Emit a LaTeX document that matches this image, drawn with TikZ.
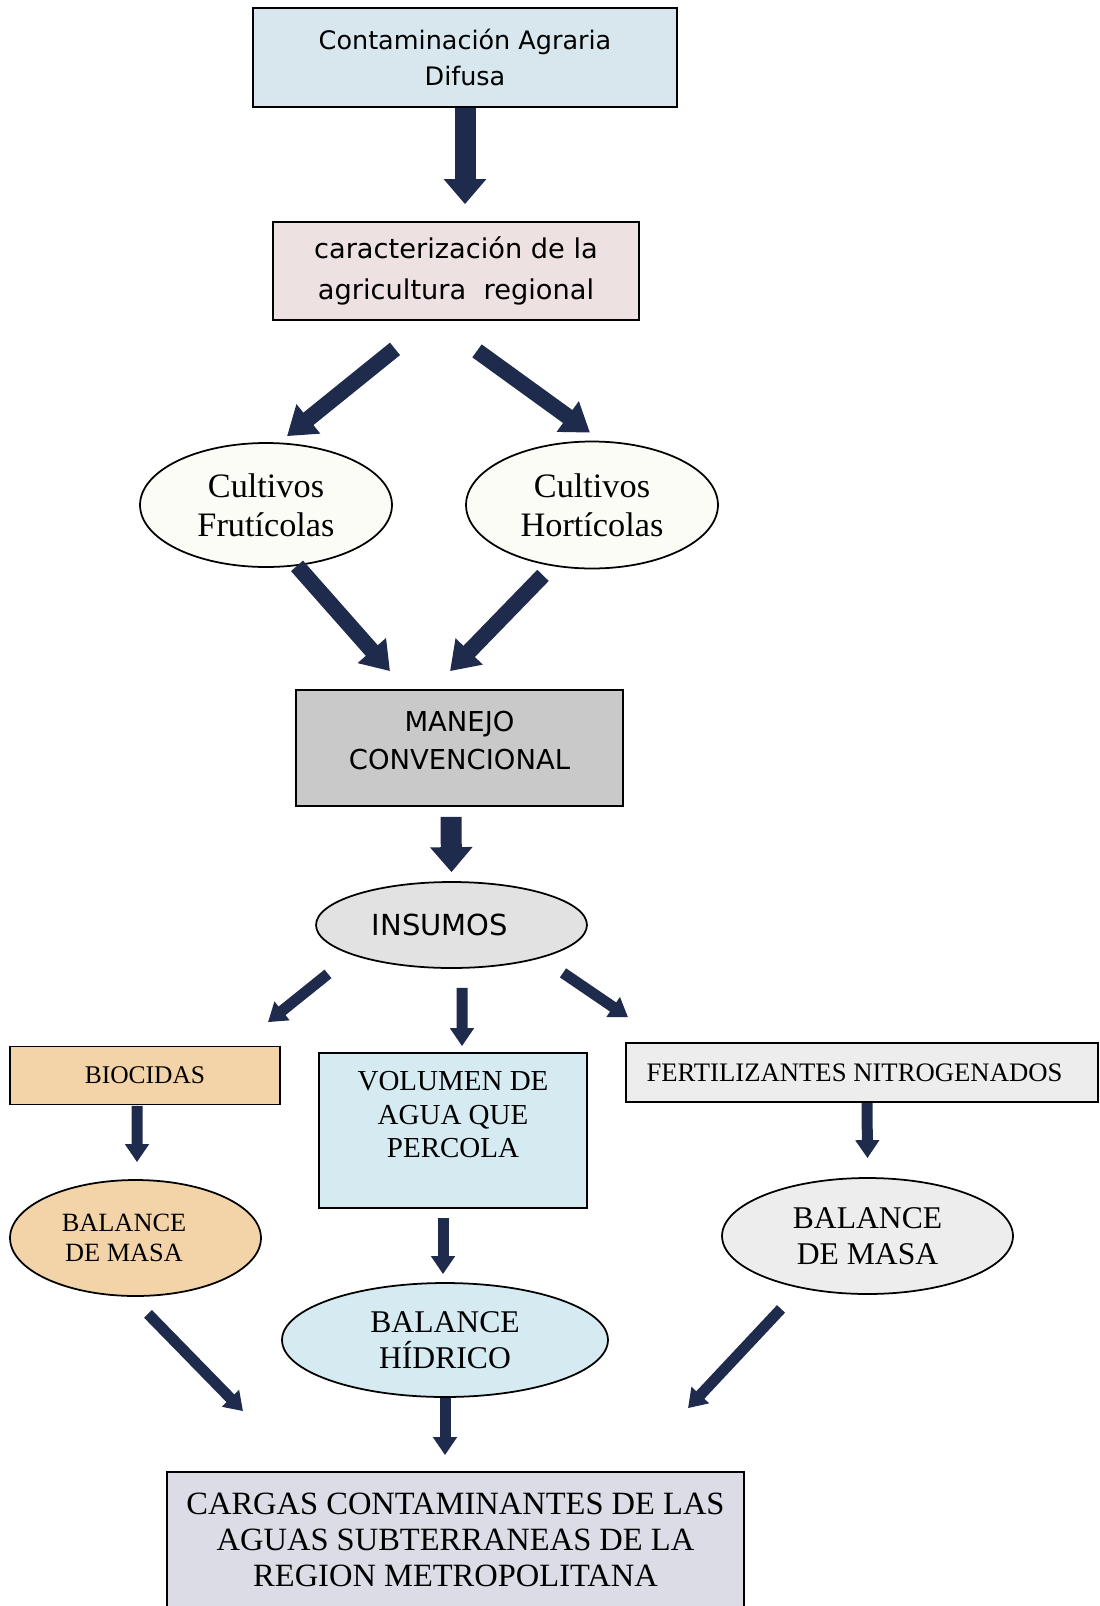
\documentclass[tikz,border=0pt]{standalone}
\usepackage{fontspec}
\setmainfont{Liberation Serif}
\newfontfamily\tahoma{DejaVu Sans}
\usetikzlibrary{arrows.meta,calc,shapes.geometric}

\definecolor{navyarrow}{HTML}{1F2B4C}
\definecolor{boxblue}{HTML}{D8E7EE}
\definecolor{boxpink}{HTML}{EEE1E1}
\definecolor{boxgray}{HTML}{C9C9C9}
\definecolor{ovalgray}{HTML}{E2E2E2}
\definecolor{ovalcream}{HTML}{FCFCF7}
\definecolor{peach}{HTML}{F3D4A8}
\definecolor{waterblue}{HTML}{D5EAF1}
\definecolor{palegray}{HTML}{EDEDED}
\definecolor{lavgray}{HTML}{DBDCE6}

\begin{document}
\begin{tikzpicture}[x=0.02cm, y=-0.02cm,
    box/.style={draw, line width=1pt, rectangle, inner sep=0pt, align=center},
    oval/.style={draw, line width=1pt, ellipse, inner sep=0pt, align=center},
    bigarrow/.style={navyarrow, line width=0.42cm, -{Triangle[length=0.5cm,width=0.82cm]}},
    diagarrow/.style={navyarrow, line width=0.32cm, -{Triangle[length=0.55cm,width=0.72cm]}},
    smallarrow/.style={navyarrow, line width=0.22cm, -{Triangle[length=0.36cm,width=0.46cm]}}]
    \useasboundingbox (0,0) rectangle (1099,1606);

    % top of the chain
    \node[box, fill=boxblue, minimum width=8.48cm, minimum height=1.98cm,
        font=\tahoma\fontsize{14.5}{20}\selectfont] (difusa) at (465,57.5)
        {Contaminación Agraria\\Difusa};
    \node[box, fill=boxpink, minimum width=7.32cm, minimum height=1.96cm,
        font=\tahoma\fontsize{15.5}{23}\selectfont] (region) at (456,271)
        {caracterización de la\\agricultura\ \ regional};

    % crops
    \node[oval, fill=ovalcream, minimum width=5.04cm, minimum height=2.48cm,
        font=\fontsize{19.5}{22}\selectfont] (fruti) at (266,505) {Cultivos\\Frutícolas};
    \node[oval, fill=ovalcream, minimum width=5.04cm, minimum height=2.54cm,
        font=\fontsize{19.5}{22}\selectfont] (horti) at (592,505) {Cultivos\\Hortícolas};

    \node[box, fill=boxgray, minimum width=6.54cm, minimum height=2.32cm,
        font=\tahoma\fontsize{15.6}{21.5}\selectfont] (manejo) at (459.5,748)
        {MANEJO\\CONVENCIONAL\\[-13pt]\mbox{}};
    \node[oval, fill=ovalgray, minimum width=5.42cm, minimum height=1.72cm,
        font=\tahoma\fontsize{16.5}{20}\selectfont] (insumos) at (451.5,925)
        {INSUMOS\kern0.46cm};

    % inputs
    \node[box, fill=peach, minimum width=5.4cm, minimum height=1.16cm,
        font=\fontsize{14.5}{17}\selectfont] (biocidas) at (145,1075.5) {BIOCIDAS};
    \node[box, fill=waterblue, minimum width=5.36cm, minimum height=3.1cm,
        font=\fontsize{16.5}{19.2}\selectfont] (volumen) at (453,1130.5)
        {VOLUMEN DE\\AGUA QUE\\PERCOLA\\[-1pt]\mbox{}};
    \node[box, fill=palegray, minimum width=9.44cm, minimum height=1.18cm,
        font=\fontsize{15.2}{18}\selectfont] (fert) at (862,1072.5)
        {FERTILIZANTES NITROGENADOS\kern0.3cm};

    % balances
    \node[oval, fill=peach, minimum width=5.02cm, minimum height=2.32cm,
        font=\fontsize{15}{17}\selectfont] (masaL) at (135.5,1238)
        {BALANCE\kern0.46cm\\DE MASA\kern0.46cm};
    \node[oval, fill=palegray, minimum width=5.82cm, minimum height=2.32cm,
        font=\fontsize{18}{20.5}\selectfont] (masaR) at (867.5,1236)
        {BALANCE\\DE MASA};
    \node[oval, fill=waterblue, minimum width=6.52cm, minimum height=2.28cm,
        font=\fontsize{18}{20.5}\selectfont] (hidrico) at (445,1340) {BALANCE\\HÍDRICO};

    \node[box, fill=lavgray, minimum width=11.54cm, minimum height=2.72cm,
        font=\fontsize{18.5}{20.5}\selectfont] (cargas) at (455.5,1540)
        {CARGAS CONTAMINANTES DE LAS\\AGUAS SUBTERRANEAS DE LA\\REGION METROPOLITANA};

    % arrows
    \draw[bigarrow] (difusa.south) -- ($(region.north)+(9,-17)$);
    \draw[diagarrow] ($(region.south)+(-61,28)$) -- ($(fruti.north)+(21,-6)$);
    \draw[diagarrow] ($(region.south)+(21,30)$) -- ($(horti.north)+(-2,-8)$);
    \draw[diagarrow] ($(fruti.south)+(31,-2)$) -- ($(manejo.north)+(-69.5,-18)$);
    \draw[diagarrow] ($(horti.south)+(-49,6)$) -- ($(manejo.north)+(-9.5,-18)$);
    \draw[bigarrow] ($(manejo.south)+(-8.5,10)$) -- ($(insumos.north)+(0,-9)$);

    \draw[smallarrow] ($(insumos.south)+(-123.5,5)$) -- ($(biocidas.north)+(123,-23.5)$);
    \draw[smallarrow] ($(insumos.south)+(10.5,19)$) -- ($(volumen.north)+(9,-6)$);
    \draw[smallarrow] ($(insumos.south)+(111.5,4)$) -- ($(fert.north)+(-234,-25)$);
    \draw[smallarrow] ($(biocidas.south)+(-8,0.5)$) -- ($(masaL.north)+(1.5,-17)$);
    \draw[smallarrow] ($(fert.south)+(5,0)$) -- ($(masaR.north)+(0,-19)$);
    \draw[smallarrow] ($(volumen.south)+(-10,9)$) -- ($(hidrico.north)+(-2,-8)$);

    \draw[smallarrow] ($(masaL.south)+(12.5,17)$) -- ($(cargas.north)+(-212.5,-60)$);
    \draw[smallarrow] (hidrico.south) -- ($(cargas.north)+(-10.5,-16)$);
    \draw[smallarrow] ($(masaR.south)+(-86.5,14)$) -- ($(cargas.north)+(232.5,-63)$);
\end{tikzpicture}
\end{document}
